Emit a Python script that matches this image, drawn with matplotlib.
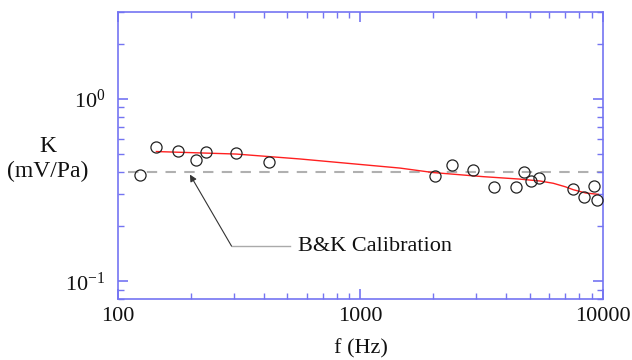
import matplotlib
matplotlib.use("Agg")
import matplotlib.pyplot as plt
from matplotlib.ticker import LogLocator, NullFormatter, FixedLocator, FixedFormatter

# measured points
freq_hz = [123, 143, 177, 209, 230, 306, 421, 2037, 2393, 2905, 3556,
           4368, 4724, 5061, 5427, 7499, 8319, 9180, 9480]
k_mv_pa = [0.382, 0.548, 0.52, 0.464, 0.515, 0.507, 0.451, 0.38, 0.432,
           0.406, 0.328, 0.33, 0.398, 0.356, 0.367, 0.319, 0.291, 0.333, 0.28]

# fitted curve
fit_f = [144, 307, 562, 1455, 1995, 3213, 4500, 5500, 6240, 7000, 7550, 8500, 9570]
fit_k = [0.515, 0.499, 0.469, 0.418, 0.395, 0.375, 0.364, 0.355, 0.345, 0.330, 0.318, 0.305, 0.30]

bk_level = 0.398
bk_f_range = [110, 10000]

serif = "Liberation Serif"
blue = "#7474f2"

plt.rcParams["mathtext.fontset"] = "custom"
plt.rcParams["mathtext.rm"] = serif
plt.rcParams["mathtext.it"] = serif
plt.rcParams["font.family"] = serif

fig = plt.figure(figsize=(6.32, 3.6), dpi=100)
ax = fig.add_axes([0.1867, 0.1694, 0.7673, 0.7973])

ax.plot(bk_f_range, [bk_level, bk_level], color="#b0b0b0", linestyle=(0, (5, 4)),
        linewidth=1.5, zorder=1)
ax.plot(fit_f, fit_k, color="#ff2020", linewidth=1.0, zorder=2)
ax.plot(freq_hz, k_mv_pa, linestyle="none", marker="o", markersize=8,
        markerfacecolor="none", markeredgecolor="#222222", markeredgewidth=0.9, zorder=3)

ax.set_xscale("log")
ax.set_yscale("log")
ax.set_xlim(100, 10000)
ax.set_ylim(0.08, 3)

# annotation: arrow plus horizontal leader line
ax.annotate("", xy=(198, 0.385), xytext=(294, 0.156),
            arrowprops=dict(arrowstyle="-|>", color="#333333", lw=0.8,
                            mutation_scale=10, shrinkA=0, shrinkB=0))
ax.plot([294, 512], [0.156, 0.156], color="#aaaaaa", linewidth=1.0)
ax.text(553, 0.156, "B&K Calibration", fontsize=16,
        va="center", ha="left", color="#111111")

for s in ax.spines.values():
    s.set_color(blue)
    s.set_linewidth(1.2)

ax.yaxis.set_major_locator(FixedLocator([0.1, 1.0]))
ax.yaxis.set_major_formatter(FixedFormatter([r"$10^{-1}$", r"$10^{0}$"]))
ax.yaxis.set_minor_locator(LogLocator(base=10, subs=range(2, 10)))
ax.yaxis.set_minor_formatter(NullFormatter())
ax.xaxis.set_major_locator(FixedLocator([100, 1000, 10000]))
ax.xaxis.set_major_formatter(FixedFormatter(["100", "1000", "10000"]))
ax.xaxis.set_minor_locator(LogLocator(base=10, subs=range(2, 10)))
ax.xaxis.set_minor_formatter(NullFormatter())

ax.tick_params(which="both", direction="in", top=True, right=True, color=blue,
               labelsize=16, labelcolor="#111111")
ax.tick_params(which="major", length=7, width=1.2)
ax.tick_params(axis="x", which="major", pad=6)
ax.tick_params(axis="y", which="major", pad=9)
ax.tick_params(which="minor", length=4, width=1.0)

ax.set_xlabel("f (Hz)", fontsize=16, color="#111111", labelpad=9)
fig.text(0.076, 0.558, "K\n(mV/Pa)", fontsize=17, color="#111111",
         ha="center", va="center", linespacing=1.2)

fig.savefig("out.png", dpi=100)
